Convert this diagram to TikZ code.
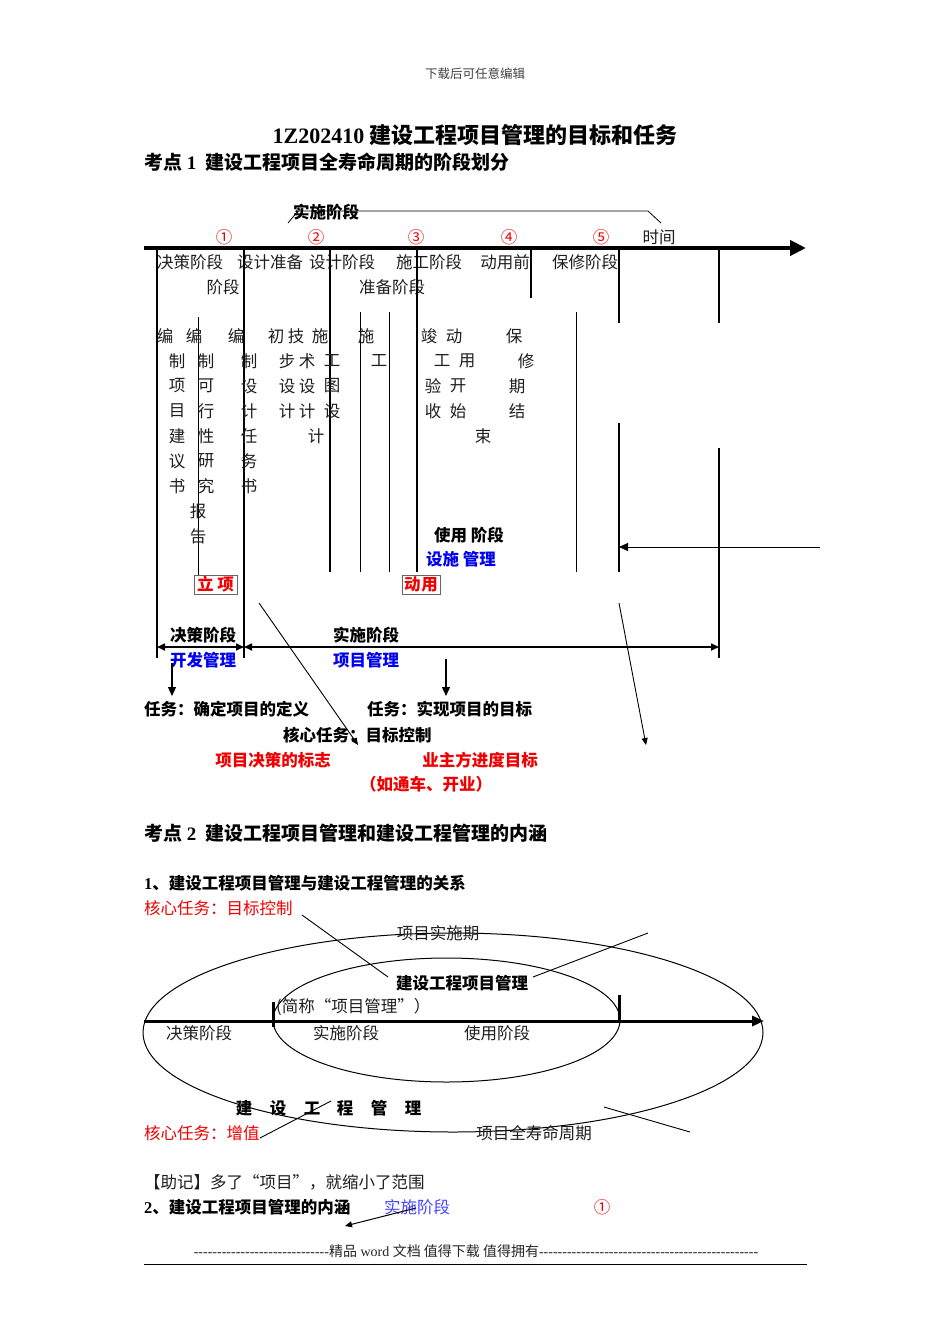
\documentclass[tikz,border=0pt]{standalone}
\usepackage{fontspec}
\setmainfont{Noto Sans CJK SC}
\newfontfamily\lat{Liberation Serif}
\usetikzlibrary{arrows.meta,shapes.geometric}
\definecolor{myred}{RGB}{240,0,0}
\definecolor{myblue}{RGB}{0,0,240}
\definecolor{lblue}{RGB}{70,70,255}
\definecolor{txtc}{RGB}{30,30,30}
\newcommand\vcolumn[3]{\foreach \c [count=\k from 0] in {#3} {\node[t] (v#1-#2-\k) at (#1,{#2+25*\k}) {\c};}}
\begin{document}
\begin{tikzpicture}[x=1pt,y=-1pt,
  t/.style={inner sep=0pt, text=txtc, font=\fontsize{16.5}{16.5}\selectfont},
  tb/.style={inner sep=0pt, text=black, font=\fontsize{16.5}{16.5}\selectfont\bfseries},
  thk/.style={line width=2.4pt},
  thn/.style={line width=0.8pt},
  tip/.style={-{Triangle[length=9pt,width=8pt]}},
  stip/.style={-{Triangle[length=7pt,width=6pt]}}
]
\useasboundingbox[fill=white] (0,0) rectangle (950,1344);

% header and titles
\node[inner sep=0pt, text=black!75, font=\fontsize{12.5}{13}\selectfont] (hdr) at (475,74) {下载后可任意编辑};
\node[inner sep=0pt, font=\fontsize{22}{22}\selectfont\bfseries] (title) at (475,135) {{\lat 1Z202410} 建设工程项目管理的目标和任务};
\node[inner sep=0pt, anchor=west, font=\fontsize{19}{19}\selectfont\bfseries] (s1) at (144,162) {考点{\lat\ 1}\hspace{9pt}建设工程项目全寿命周期的阶段划分};

% bracket over implementation stage
\node[tb] (ssjd) at (326,212) {实施阶段};
\coordinate (b1) at (288,223); \coordinate (b2) at (298,211);
\coordinate (b3) at (648,211); \coordinate (b4) at (661,223);
\draw[thn] (b1) -- (b2) -- (b3) -- (b4);

% circled numbers
\foreach \x/\n [count=\i] in {224/①,316/②,416/③,509/④,601/⑤}
  \node[t, text=myred] (num\i) at (\x,237) {\n};
\node[t] (shijian) at (659,237) {时间};

% main axis
\coordinate (axL) at (144,248); \coordinate (axR) at (806,248);
\draw[line width=4pt, -{Triangle[length=16pt,width=15pt]}] (axL) -- (axR);

% stage labels
\node[t] (l1) at (190,262) {决策阶段};
\node[t] (l2) at (270,262) {设计准备};
\node[t] (l2b) at (223,287) {阶段};
\node[t] (l3) at (342,262) {设计阶段};
\node[t] (l4) at (429,262) {施工阶段};
\node[t] (l4b) at (392,287) {准备阶段};
\node[t] (l5) at (505,262) {动用前};
\node[t] (l6) at (585,262) {保修阶段};

% thick vertical lines
\draw[thk] (157,248) -- (157,658);
\draw[thk] (244,248) -- (244,658);
\draw[thk] (330,248) -- (330,572);
\draw[thk] (417,248) -- (417,572);
\draw[thk] (531,248) -- (531,298);
\draw[thk] (619,248) -- (619,323);
\draw[thk] (619,423) -- (619,572);
\draw[thk] (719,248) -- (719,323);
\draw[thk] (719,448) -- (719,658);
% thin vertical lines
\draw[thn] (198,317) -- (198,575);
\draw[thn] (360,312) -- (360,572);
\draw[thn] (389,312) -- (389,572);
\draw[thn] (576,312) -- (576,572);

% vertical text columns
\vcolumn{165}{336}{编}
\vcolumn{177}{361}{制,项,目,建,议,书}
\vcolumn{194}{336}{编}
\vcolumn{206}{361}{制,可,行,性,研,究}
\vcolumn{198}{511}{报,告}
\vcolumn{236}{336}{编}
\vcolumn{249}{361}{制,设,计,任,务,书}
\vcolumn{276}{336}{初}
\vcolumn{287}{361}{步,设,计}
\vcolumn{296}{336}{技}
\vcolumn{307}{361}{术,设,计}
\vcolumn{320}{336}{施}
\vcolumn{332}{361}{工,图,设}
\vcolumn{316}{436}{计}
\vcolumn{366}{336}{施}
\vcolumn{379}{361}{工}
\vcolumn{429}{336}{竣}
\vcolumn{442}{361}{工}
\vcolumn{433}{386}{验,收}
\vcolumn{454}{336}{动}
\vcolumn{467}{361}{用}
\vcolumn{458}{386}{开,始}
\vcolumn{483}{436}{束}
\vcolumn{514}{336}{保}
\vcolumn{526}{361}{修}
\vcolumn{517}{386}{期,结}

% use stage
\node[tb] (syjd) at (469,535) {使用 阶段};
\node[tb, text=myblue] (ssgl) at (461,559) {设施 管理};
\coordinate (arS) at (820,547); \coordinate (arE) at (619,547);
\draw[line width=1pt, tip] (arS) -- (arE);

% boxes
\node[draw=black!60, line width=0.8pt, text=myred, font=\fontsize{16.5}{16.5}\selectfont\bfseries, minimum width=43pt, minimum height=19pt, inner sep=0pt] (lixiang) at (215.5,584.5) {立\hspace{4pt}项};
\node[draw=black!60, line width=0.8pt, text=myred, font=\fontsize{16.5}{16.5}\selectfont\bfseries, minimum width=38pt, minimum height=19pt, inner sep=0pt] (dongyong) at (421,584.5) {动\hspace{1pt}用};

% lower double arrows
\node[tb] (jcjd) at (203,635) {决策阶段};
\node[tb] (ssjd2) at (366,635) {实施阶段};
\coordinate (d1) at (157,647); \coordinate (d2) at (244,647); \coordinate (d3) at (719,647);
\draw[line width=1.6pt, {Triangle[length=8pt,width=7pt]}-{Triangle[length=8pt,width=7pt]}] (d1) -- (d2);
\draw[line width=1.6pt, {Triangle[length=8pt,width=7pt]}-{Triangle[length=8pt,width=7pt]}] (d2) -- (d3);
\node[tb, text=myblue] (kfgl) at (203,660) {开发管理};
\node[tb, text=myblue] (xmgl) at (366,660) {项目管理};

\coordinate (a1s) at (172,663); \coordinate (a1e) at (172,696);
\draw[line width=1.2pt, tip] (a1s) -- (a1e);
\coordinate (a2s) at (446,659); \coordinate (a2e) at (446,696);
\draw[line width=1.2pt, tip] (a2s) -- (a2e);

\node[tb, anchor=west] (rw1) at (144,709) {任务：确定项目的定义};
\node[tb, anchor=west] (rw2) at (367,709) {任务：实现项目的目标};
\node[tb, anchor=west] (hxrw) at (283,735) {核心任务：目标控制};
\node[tb, text=myred] (bz) at (273,760) {项目决策的标志};
\node[tb, text=myred] (jd) at (480,760) {业主方进度目标};
\node[tb, text=myred] (rtc) at (426,784) {（如通车、开业）};

\coordinate (x1s) at (259,603); \coordinate (x1e) at (358,745);
\draw[line width=0.9pt, stip] (x1s) -- (x1e);
\coordinate (x2s) at (619,603); \coordinate (x2e) at (646,745);
\draw[line width=0.9pt, stip] (x2s) -- (x2e);

% section 2
\node[inner sep=0pt, anchor=west, font=\fontsize{19}{19}\selectfont\bfseries] (s2) at (144,833) {考点{\lat\ 2}\hspace{9pt}建设工程项目管理和建设工程管理的内涵};
\node[tb, anchor=west] (s21) at (144,883) {{\lat 1}、建设工程项目管理与建设工程管理的关系};
\node[t, text=myred, anchor=west] (hx1) at (144,908) {核心任务：目标控制};

\node[draw, line width=1pt, ellipse, minimum width=620pt, minimum height=199pt, inner sep=0pt] (outer) at (453,1032.5) {};
\node[draw, line width=1pt, ellipse, minimum width=347pt, minimum height=124pt, inner sep=0pt] (inner) at (446.5,1020) {};

\node[t] (xmssq) at (438,933) {项目实施期};
\node[tb] (jsgcxmgl) at (462,983) {建设工程项目管理};
\node[t, anchor=west] (jc) at (276,1007) {(简称“项目管理”）};

\coordinate (e1) at (144,1021); \coordinate (e2) at (764,1021);
\draw[line width=3pt, -{Triangle[length=12pt,width=10pt]}] (e1) -- (e2);
\draw[line width=3pt] (273,1002) -- (273,1027);
\draw[line width=3pt] (619,995) -- (619,1021);
\node[t] (m1) at (199,1033) {决策阶段};
\node[t] (m2) at (346,1033) {实施阶段};
\node[t] (m3) at (497,1033) {使用阶段};

\foreach \x/\c [count=\i] in {244/建,278/设,312/工,345/程,379/管,413/理}
  \node[tb] (g\i) at (\x,1108) {\c};
\node[t, text=myred, anchor=west] (hx2) at (144,1133) {核心任务：增值};
\node[t] (qsm) at (534,1133) {项目全寿命周期};

\coordinate (p1) at (302,915); \coordinate (p2) at (388,977);
\draw[line width=0.9pt] (p1) -- (p2);
\coordinate (p3) at (533,977); \coordinate (p4) at (648,933);
\draw[line width=0.9pt] (p3) -- (p4);
\coordinate (p5) at (260,1138); \coordinate (p6) at (331,1101);
\draw[line width=0.9pt] (p5) -- (p6);
\coordinate (p7) at (604,1107); \coordinate (p8) at (690,1132);
\draw[line width=0.9pt] (p7) -- (p8);

% bottom
\node[t, anchor=west] (zj) at (144,1182) {【助记】多了“项目”，就缩小了范围};
\node[tb, anchor=west] (s22) at (144,1207) {{\lat 2}、建设工程项目管理的内涵};
\node[t, text=lblue] (ss3) at (417,1207) {实施阶段};
\node[t, text=myred] (n1b) at (602,1207) {①};
\coordinate (q1) at (416,1208); \coordinate (q2) at (345,1226);
\draw[line width=1pt, stip] (q1) -- (q2);

\node[inner sep=0pt, text=black!85, font=\fontsize{14}{14}\selectfont] (foot) at (476,1251) {{\lat -----------------------------}精品{\lat\ word }文档 值得下载 值得拥有{\lat -----------------------------------------------}};
\coordinate (f1) at (144,1264); \coordinate (f2) at (807,1264);
\draw[line width=1pt] (f1) -- (f2);
\end{tikzpicture}
\end{document}
